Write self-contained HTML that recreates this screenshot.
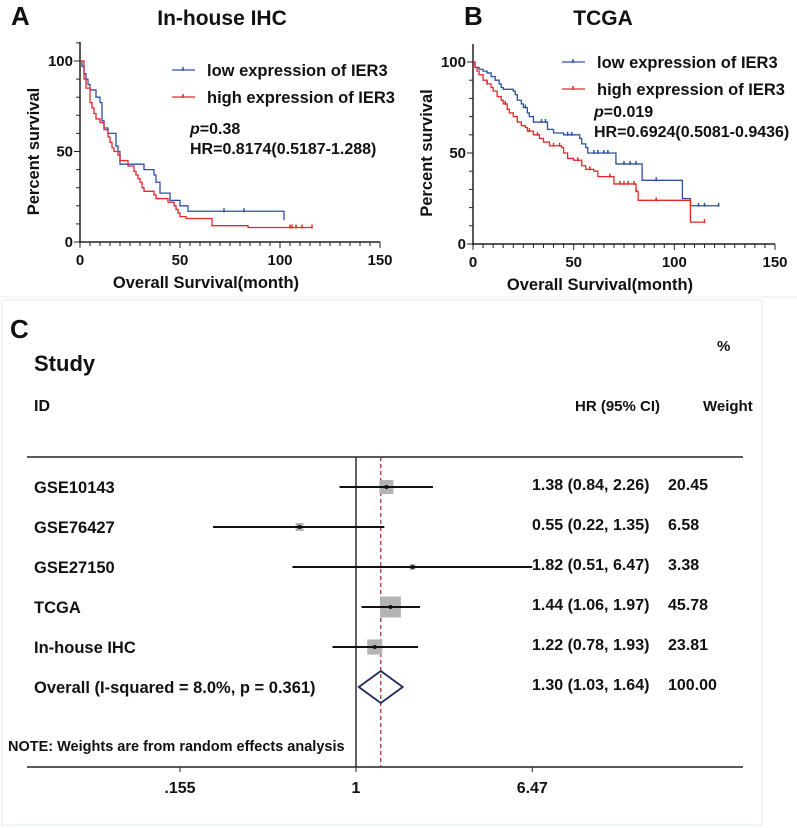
<!DOCTYPE html>
<html><head><meta charset="utf-8">
<style>
html,body{margin:0;padding:0;background:#fff;}
svg{display:block;font-family:"Liberation Sans",Arial,sans-serif;}
text{font-weight:bold;fill:#111;}
</style></head>
<body>
<svg id="chart" width="797" height="828" viewBox="0 0 797 828" xmlns="http://www.w3.org/2000/svg">
<rect x="0" y="0" width="797" height="828" fill="#fff"/>
<line x1="0" y1="297" x2="797" y2="297" stroke="#e6ecec" stroke-width="1"/>
<rect x="2" y="300" width="760" height="525" fill="none" stroke="#e3eaea" stroke-width="1"/>
<g id="panelA"></g>
<g id="panelB"></g>
<g id="panelC"></g>
</svg>
<script>
// ---------- Panel A data ----------
const aLowT = [0,1,2,3,4,5,8,10,11,12,14,18,19,20,32,37,38,40,45,50,54,102];
const aLowS = [100,97,93,90,87,84,80,77,67,63,60,53,50,43,40,37,33,27,23,20,17,12];
const aLowCens = [72,82];
const aHighT = [0,2,3,5,6,7,8,10,12,14,15,16,17,19,20,24,27,28,29,30,31,32,37,38,44,47,48,49,50,53,66,84,116];
const aHighS = [100,90,85,77,74,71,68,66,62,58,55,52,50,48,45,42,39,37,35,33,30,28,26,24,22,20,18,16,14,13,9,8,8];
const aHighCens = [105,106,108,111,116];
// ---------- Panel B data ----------
const bLowT = [0,1,3,5,7,9,11,13,14,15,20,21,22,24,25,27,28,30,37,40,45,53,54,56,57,71,84,104,108,122];
const bLowS = [100,97,96,95,94,92,90,88,86,85,84,82,79,77,75,72,70,67,63,61,60,58,55,53,50,44,35,25,21,21];
const bLowCens = [26,34,36,47,49,60,62,65,67,75,78,81,91,112,115,122];
const bHighT = [0,1,2,3,5,7,9,10,12,14,15,17,18,20,22,24,26,27,30,33,35,38,44,45,47,50,54,56,60,62,70,81,82,108,115];
const bHighS = [100,97,95,93,90,88,86,84,81,79,77,74,72,70,67,65,64,62,60,58,56,54,53,50,47,46,43,41,40,37,33,29,24,12,12];
const bHighCens = [7,16,28,32,40,43,52,58,68,73,75,77,80,81,91,115];
const xTicks = [0,50,100,150];
const yTicks = [0,50,100];
// ---------- Panel C data ----------
const studies = ["GSE10143","GSE76427","GSE27150","TCGA","In-house IHC"];
const hr = [1.38,0.55,1.82,1.44,1.22];
const lo = [0.84,0.22,0.51,1.06,0.78];
const hi = [2.26,1.35,6.47,1.97,1.93];
const weights = [20.45,6.58,3.38,45.78,23.81];
const overallHR = 1.30, overallLo = 1.03, overallHi = 1.64;
const forestTicks = [0.155,1,6.47];
const forestTickLabels = [".155","1","6.47"];

const NS="http://www.w3.org/2000/svg";
function el(parent,tag,attrs,txt){const e=document.createElementNS(NS,tag);for(const k in attrs)e.setAttribute(k,attrs[k]);if(txt!==undefined)e.textContent=txt;parent.appendChild(e);return e;}

function km(g,cfg){
  const X=t=>cfg.x0+t*(cfg.x1-cfg.x0)/150;
  const Y=s=>cfg.y0-s*(cfg.y0-cfg.y100)/100;
  let e;
  e=el(g,'text',{x:cfg.letterX,y:25,'font-size':26},cfg.letter);
  
  
  e=el(g,'text',{x:cfg.titleX,y:25,'font-size':21,'text-anchor':'middle'},cfg.title);
  
  
  e=el(g,'line',{x1:cfg.x0,y1:cfg.yTop,x2:cfg.x0,y2:cfg.y0+1,stroke:'#222','stroke-width':1.5});
  
  
  e=el(g,'line',{x1:cfg.x0-1,y1:cfg.y0,x2:cfg.x1,y2:cfg.y0,stroke:'#222','stroke-width':1.5});
  
  
  for(let t=0;t<=150;t+=5){const big=t%50===0;el(g,'line',{x1:X(t),y1:cfg.y0,x2:X(t),y2:cfg.y0+(big?6:4),stroke:'#222','stroke-width':1});}
  for(let s=0;s<=110;s+=10){if(cfg.y0-s*(cfg.y0-cfg.y100)/100<cfg.yTop)break;const big=s%50===0;el(g,'line',{x1:cfg.x0,y1:Y(s),x2:cfg.x0-(big?6:4),y2:Y(s),stroke:'#222','stroke-width':1});}
  xTicks.forEach(t=>{const e=el(g,'text',{x:X(t),y:cfg.y0+23,'font-size':15,'text-anchor':'middle'},String(t));
    
    });
  yTicks.forEach(s=>{const e=el(g,'text',{x:cfg.x0-7,y:Y(s)+5,'font-size':15,'text-anchor':'end'},String(s));
    
    });
  e=el(g,'text',{x:(cfg.x0+cfg.x1)/2-24,y:cfg.y0+46,'font-size':16.5,'text-anchor':'middle'},'Overall Survival(month)');
  
  
  e=el(g,'text',{x:0,y:0,'font-size':16.5,'text-anchor':'middle',transform:`translate(${cfg.ylabX},${(cfg.y0+cfg.y100)/2}) rotate(-90)`},'Percent survival');
  
  
  function curve(T,S,cens,color,name){
    let d=`M${X(T[0])},${Y(S[0])}`;
    for(let i=1;i<T.length;i++){d+=` H${X(T[i])} V${Y(S[i])}`;}
    const p=el(g,'path',{d:d,fill:'none',stroke:color,'stroke-width':1.3});
    
    
    cens.forEach(c=>{let s=S[0];for(let i=0;i<T.length;i++){if(T[i]<=c)s=S[i];}
      const m=el(g,'line',{x1:X(c),y1:Y(s)-3,x2:X(c),y2:Y(s)+1,stroke:color,'stroke-width':1.5});
      
      });
  }
  curve(cfg.lowT,cfg.lowS,cfg.lowC,'#2d4fa6','low-expression');
  curve(cfg.highT,cfg.highS,cfg.highC,'#e8262b','high-expression');
  const lg=el(g,'g',{});
  
  
  [['#2d4fa6','low expression of IER3',cfg.legY],['#e8262b','high expression of IER3',cfg.legY+27]].forEach(([c,t,y])=>{
    el(lg,'line',{x1:cfg.legX,y1:y,x2:cfg.legX+23,y2:y,stroke:c,'stroke-width':1.3});
    el(lg,'line',{x1:cfg.legX+11,y1:y-3,x2:cfg.legX+11,y2:y+1,stroke:c,'stroke-width':1.5});
    const e=el(lg,'text',{x:cfg.legX+35,y:y+6,'font-size':16.5,'font-weight':'normal'},t);
    
    
  });
  const pt=el(g,'text',{x:cfg.statX,y:cfg.statY,'font-size':16});
  
  
  el(pt,'tspan',{'font-style':'italic'},'p');
  el(pt,'tspan',{},'='+cfg.p);
  const ht=el(g,'text',{x:cfg.statX,y:cfg.statY+20,'font-size':16},'HR='+cfg.hr);
  
  
}

km(document.getElementById('panelA'),{x0:80,x1:380,y0:242,y100:61,yTop:42,letter:'A',letterX:11,title:'In-house IHC',titleX:222,
  lowT:aLowT,lowS:aLowS,lowC:aLowCens,highT:aHighT,highS:aHighS,highC:aHighCens,legX:172,legY:70,statX:190,statY:134,p:'0.38',hr:'0.8174(0.5187-1.288)',ylabX:39});
km(document.getElementById('panelB'),{x0:473,x1:775,y0:244,y100:62,yTop:44,letter:'B',letterX:464,title:'TCGA',titleX:603,
  lowT:bLowT,lowS:bLowS,lowC:bLowCens,highT:bHighT,highS:bHighS,highC:bHighCens,legX:562,legY:62,statX:594,statY:117,p:'0.019',hr:'0.6924(0.5081-0.9436)',ylabX:432});

(function(){
  const g=document.getElementById('panelC');
  const FX=v=>356+Math.log(v)*94.4;
  const rowY=i=>487+i*40;
  let e;
  e=el(g,'text',{x:10,y:338,'font-size':26},'C');
  
  
  e=el(g,'text',{x:34,y:371,'font-size':22},'Study');
  
  
  e=el(g,'text',{x:34,y:411,'font-size':16},'ID');
  
  
  e=el(g,'text',{x:575,y:411,'font-size':15},'HR (95% CI)');
  
  
  e=el(g,'text',{x:717,y:351,'font-size':15,'font-weight':'normal'},'%');
  
  
  e=el(g,'text',{x:703,y:411,'font-size':15},'Weight');
  
  
  e=el(g,'line',{x1:27,y1:457,x2:743,y2:457,stroke:'#222','stroke-width':1.4});
  
  
  e=el(g,'line',{x1:27,y1:767,x2:743,y2:767,stroke:'#222','stroke-width':1.4});
  
  
  e=el(g,'line',{x1:FX(1),y1:457,x2:FX(1),y2:767,stroke:'#222','stroke-width':1.4});
  
  
  e=el(g,'line',{x1:FX(overallHR),y1:457,x2:FX(overallHR),y2:767,stroke:'#a8323c','stroke-width':1.3,'stroke-dasharray':'4,3'});
  
  
  forestTicks.forEach((v,i)=>{
    el(g,'line',{x1:FX(v),y1:767,x2:FX(v),y2:772,stroke:'#222','stroke-width':1});
    const t=el(g,'text',{x:FX(v),y:793,'font-size':16,'text-anchor':'middle'},forestTickLabels[i]);
    
    
  });
  studies.forEach((s,i)=>{
    const y=rowY(i);
    let t=el(g,'text',{x:34,y:y+6,'font-size':16.5},s);
    
    
    const side=3.1*Math.sqrt(weights[i]);
    const r=el(g,'rect',{x:FX(hr[i])-side/2,y:y-side/2,width:side,height:side,fill:'#b4b4b4'});
    
    
    const l=el(g,'line',{x1:FX(lo[i]),y1:y,x2:FX(hi[i]),y2:y,stroke:'#111','stroke-width':2});
    
    
    const c=el(g,'circle',{cx:FX(hr[i]),cy:y,r:2,fill:'#111'});
    
    
    t=el(g,'text',{x:532,y:y+3,'font-size':16},`${hr[i].toFixed(2)} (${lo[i].toFixed(2)}, ${hi[i].toFixed(2)})`);
    
    
    t=el(g,'text',{x:668,y:y+3,'font-size':16},weights[i].toFixed(2));
    
    
  });
  const oy=rowY(5);
  let t=el(g,'text',{x:34,y:oy+6,'font-size':16.5,'xml:space':'preserve'},'Overall  (I-squared = 8.0%, p = 0.361)');
  
  
  const dm=el(g,'polygon',{points:`${FX(overallLo)},${oy} ${FX(overallHR)},${oy-16} ${FX(overallHi)},${oy} ${FX(overallHR)},${oy+16}`,fill:'none',stroke:'#1f2a5c','stroke-width':1.8});
  
  
  t=el(g,'text',{x:532,y:oy+3,'font-size':16},`${overallHR.toFixed(2)} (${overallLo.toFixed(2)}, ${overallHi.toFixed(2)})`);
  
  
  t=el(g,'text',{x:668,y:oy+3,'font-size':16},'100.00');
  
  
  t=el(g,'text',{x:8,y:751,'font-size':14.5},'NOTE: Weights are from random effects analysis');
  
  
})();
</script>
</body></html>
